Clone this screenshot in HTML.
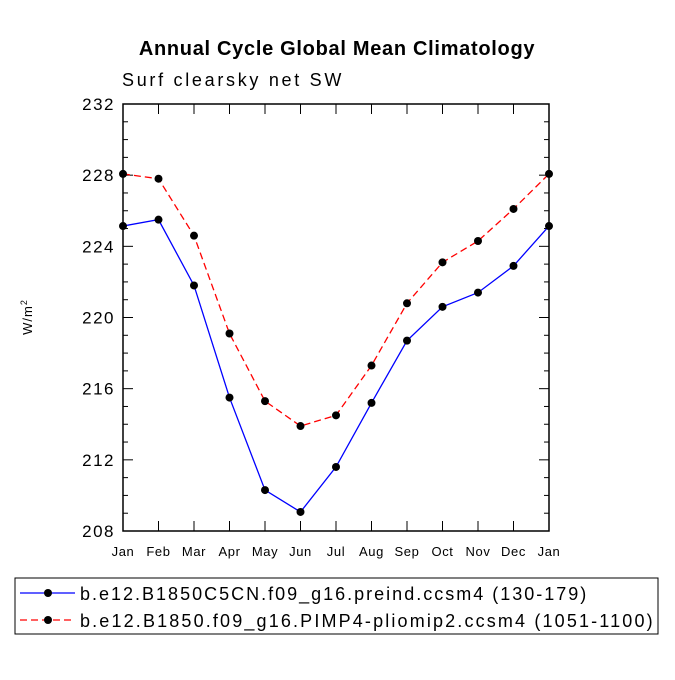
<!DOCTYPE html>
<html><head><meta charset="utf-8"><style>
body{margin:0;background:#fff;}
svg text{font-family:"Liberation Sans",sans-serif;}
</style></head><body>
<svg id="chart" width="675" height="675" xmlns="http://www.w3.org/2000/svg">
<rect width="675" height="675" fill="#fff"/>
<text x="337" y="55" text-anchor="middle" font-size="20" font-weight="bold" letter-spacing="0.7">Annual Cycle Global Mean Climatology</text>
<text x="122" y="86" font-size="18" letter-spacing="2.7">Surf clearsky net SW</text>
<text transform="translate(32,317) rotate(-90)" text-anchor="middle" font-size="13" letter-spacing="1">W/m<tspan dy="-5" font-size="9">2</tspan></text>
<g id="plot"></g>
<rect x="15" y="578" width="643" height="56" fill="none" stroke="#000" stroke-width="1"/>
<g>
<line x1="20" y1="593" x2="75" y2="593" stroke="#0000ff" stroke-width="1.3"/>
<circle cx="48" cy="593" r="4" fill="#000"/>
<text x="80" y="600" font-size="18" letter-spacing="2">b.e12.B1850C5CN.f09_g16.preind.ccsm4 (130-179)</text>
</g>
<g>
<line x1="20" y1="620" x2="75" y2="620" stroke="#ff0000" stroke-width="1.3" stroke-dasharray="7,4"/>
<circle cx="48" cy="620" r="4" fill="#000"/>
<text x="80" y="627" font-size="18" letter-spacing="2.15">b.e12.B1850.f09_g16.PIMP4-pliomip2.ccsm4 (1051-1100)</text>
</g>
</svg>
<script>
const months=["Jan","Feb","Mar","Apr","May","Jun","Jul","Aug","Sep","Oct","Nov","Dec","Jan"];
const preind=[225.14,225.5,221.8,215.5,210.3,209.07,211.6,215.2,218.7,220.6,221.4,222.9,225.14];
const pliomip=[228.07,227.8,224.6,219.1,215.3,213.9,214.5,217.3,220.8,223.1,224.3,226.1,228.07];
const yTicks=[208,212,216,220,224,228,232];
const X0=123,X1=549,Y0=531,Y1=104,YMIN=208,YMAX=232;
const xs=i=>X0+(X1-X0)*i/(months.length-1);
const ys=v=>Y0-(v-YMIN)/(YMAX-YMIN)*(Y0-Y1);
const NS="http://www.w3.org/2000/svg";
const g=document.getElementById("plot");
function mk(t,a){const e=document.createElementNS(NS,t);for(const k in a)e.setAttribute(k,a[k]);g.appendChild(e);return e;}
const frame=mk("rect",{x:X0,y:Y1,width:X1-X0,height:Y0-Y1,fill:"none",stroke:"#000","stroke-width":1.5});


for(let v=YMIN;v<=YMAX;v++){const L=(v%4===0)?10:5;const y=ys(v);
mk("line",{x1:X0,y1:y,x2:X0+L,y2:y,stroke:"#000"});mk("line",{x1:X1,y1:y,x2:X1-L,y2:y,stroke:"#000"});}
yTicks.forEach(v=>{const t=mk("text",{x:X0-8,y:ys(v)+6,"text-anchor":"end","font-size":"17","letter-spacing":"1.5"});t.textContent=v;

});
months.forEach((m,i)=>{const x=xs(i);
mk("line",{x1:x,y1:Y0,x2:x,y2:Y0-10,stroke:"#000"});mk("line",{x1:x,y1:Y1,x2:x,y2:Y1+10,stroke:"#000"});
const t=mk("text",{x:x,y:Y0+25,"text-anchor":"middle","font-size":"13","letter-spacing":"0.6"});t.textContent=m;

});
function series(vals,color,dash,name){
const p=mk("polyline",{points:vals.map((v,i)=>xs(i)+","+ys(v)).join(" "),fill:"none",stroke:color,"stroke-width":1.3,"stroke-dasharray":dash});


vals.forEach((v,i)=>{const c=mk("circle",{cx:xs(i),cy:ys(v),r:4,fill:"#000"});

});}
series(preind,"#0000ff","none","preind");
series(pliomip,"#ff0000","7,4","pliomip");
</script>
</body></html>
